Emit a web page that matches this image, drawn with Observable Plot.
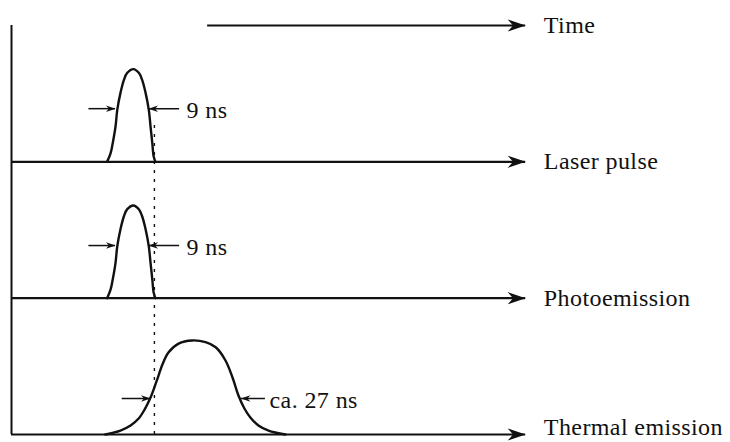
<!DOCTYPE html>
<html>
<head>
<meta charset="utf-8">
<script src="https://cdn.jsdelivr.net/npm/d3@7"></script>
<script src="https://cdn.jsdelivr.net/npm/@observablehq/plot@0.6"></script>
<style>
  html, body { margin: 0; padding: 0; background: #fff; overflow: hidden; }
  svg text { letter-spacing: 0.4px; }
</style>
</head>
<body>
<div id="chart"></div>
<script>
// ---- Channels (stacked traces); level = baseline in band units ----
const labels = ["Time", "Laser pulse", "Photoemission", "Thermal emission"];
const levels = [3, 2, 1, 0];
const arrowStart = [56, 0, 0, 0];     // ns where each arrow line starts
const arrowTip = [146.8, 146.8, 146.8, 146.8]; // ns of arrow tips
const labelT = 152;                    // ns where labels begin
const labelShift = [0, -1, 0, -7];     // small vertical nudge of labels (px)

// ---- 9 ns laser / photoemission pulse shape ----
const pulseT = [27.3, 28.3, 28.9, 29.7, 30.2, 31.1, 32.1, 33.0, 34.8, 36.4, 37.3, 38.3, 39.2, 39.7, 40.2, 40.6, 41.1];
const pulseA = [0, 0.064, 0.137, 0.259, 0.381, 0.504, 0.601, 0.651, 0.680, 0.651, 0.601, 0.504, 0.381, 0.259, 0.137, 0.039, 0];
const pulseLevels = [2, 1];

// ---- ca. 27 ns thermal emission shape ----
const thermalT = [26.8, 31.1, 34.0, 36.3, 38.0, 39.7, 41.4, 43.1, 44.8, 47.7, 51.6, 55.4, 58.3, 61.1, 63.1, 64.8, 66.5, 68.2, 70.5, 73.4, 78.2];
const thermalA = [0, 0.029, 0.066, 0.117, 0.183, 0.271, 0.389, 0.513, 0.601, 0.667, 0.690, 0.677, 0.640, 0.543, 0.418, 0.286, 0.191, 0.125, 0.066, 0.029, 0];
const thermalLevel = 0;

// ---- width markers ----
const widthLabels = ["9 ns", "9 ns", "ca. 27 ns"];
const widthLevels = [2, 1, 0];
const widthY = [0.39, 0.386, 0.264];     // height of markers above baseline
const widthLeftFrom = [22.1, 22.1, 31.6];
const widthLeftTip = [29.7, 29.7, 39.7];
const widthRightTip = [39.1, 39.1, 65.5];
const widthRightTo = [48.0, 48.0, 72.5];
const widthTextT = [49.4, 49.4, 73.1];

// ---- dotted reference line ----
const dottedT = 40.8;
const dottedTop = 2.29;

// build tables
const arrows = labels.map((l, i) => ({label: l, level: levels[i], t1: arrowStart[i], t2: arrowTip[i], dy: labelShift[i]}));
const curve = [];
pulseLevels.forEach((lv) => pulseT.forEach((t, j) => curve.push({id: "p" + lv, t, y: lv + pulseA[j]})));
thermalT.forEach((t, j) => curve.push({id: "th", t, y: thermalLevel + thermalA[j]}));
const widths = widthLabels.map((l, i) => ({
  label: l, y: widthLevels[i] + widthY[i],
  lf: widthLeftFrom[i], lt: widthLeftTip[i], rt: widthRightTip[i], rto: widthRightTo[i], tt: widthTextT[i]
}));

// arrowhead symbol: tip at origin, pointing right, length = r
const arrowHead = {
  draw(ctx, size) {
    const L = Math.sqrt(size / Math.PI);
    const W = L * 0.34;
    ctx.moveTo(0, 0);
    ctx.lineTo(-L, -W);
    ctx.lineTo(-L * 0.7, 0);
    ctx.lineTo(-L, W);
    ctx.closePath();
  }
};

const font = "'Liberation Serif', 'Times New Roman', Times, serif";
const labelMarks = [...new Set(labelShift)].map((s) =>
  Plot.text(arrows.filter(d => d.dy === s), {x: labelT, y: "level", text: "label", textAnchor: "start", dy: s, fontSize: 24, fill: "#111"})
);
const chart = Plot.plot({
  width: 730,
  height: 442,
  marginTop: 0, marginRight: 0, marginBottom: 0, marginLeft: 0,
  style: {fontFamily: font, background: "#fff", color: "#000"},
  x: {domain: [0, 205], range: [11, 729], axis: null},
  y: {domain: [0, 3], range: [434, 25], axis: null},
  marks: [
    // vertical axis
    Plot.ruleX([0], {x: d => d, y1: 0, y2: 3, stroke: "#111", strokeWidth: 2}),
    // dotted reference line
    Plot.ruleX([dottedT], {x: d => d, y1: 0, y2: dottedTop, stroke: "#111", strokeWidth: 1.4, strokeDasharray: "3,6"}),
    // baselines / time arrow
    Plot.ruleY(arrows, {y: "level", x1: "t1", x2: "t2", stroke: "#111", strokeWidth: 2.2}),
    Plot.dot(arrows, {x: "t2", y: "level", symbol: arrowHead, r: 18, fill: "#111", stroke: "none"}),
    // curves
    Plot.line(curve, {x: "t", y: "y", z: "id", curve: "catmull-rom", stroke: "#111", strokeWidth: 2.4}),
    // width markers
    Plot.ruleY(widths, {y: "y", x1: "lf", x2: "lt", stroke: "#111", strokeWidth: 1.5}),
    Plot.ruleY(widths, {y: "y", x1: "rt", x2: "rto", stroke: "#111", strokeWidth: 1.5}),
    Plot.dot(widths, {x: "lt", y: "y", symbol: arrowHead, r: 9.5, fill: "#111", stroke: "none"}),
    Plot.dot(widths, {x: "rt", y: "y", symbol: arrowHead, r: 9.5, rotate: 180, fill: "#111", stroke: "none"}),
    Plot.text(widths, {x: "tt", y: "y", text: "label", textAnchor: "start", dx: 2, dy: 2, fontSize: 24, fill: "#111"}),
    // channel labels
    ...labelMarks
  ]
});
document.getElementById("chart").appendChild(chart);
</script>
</body>
</html>
